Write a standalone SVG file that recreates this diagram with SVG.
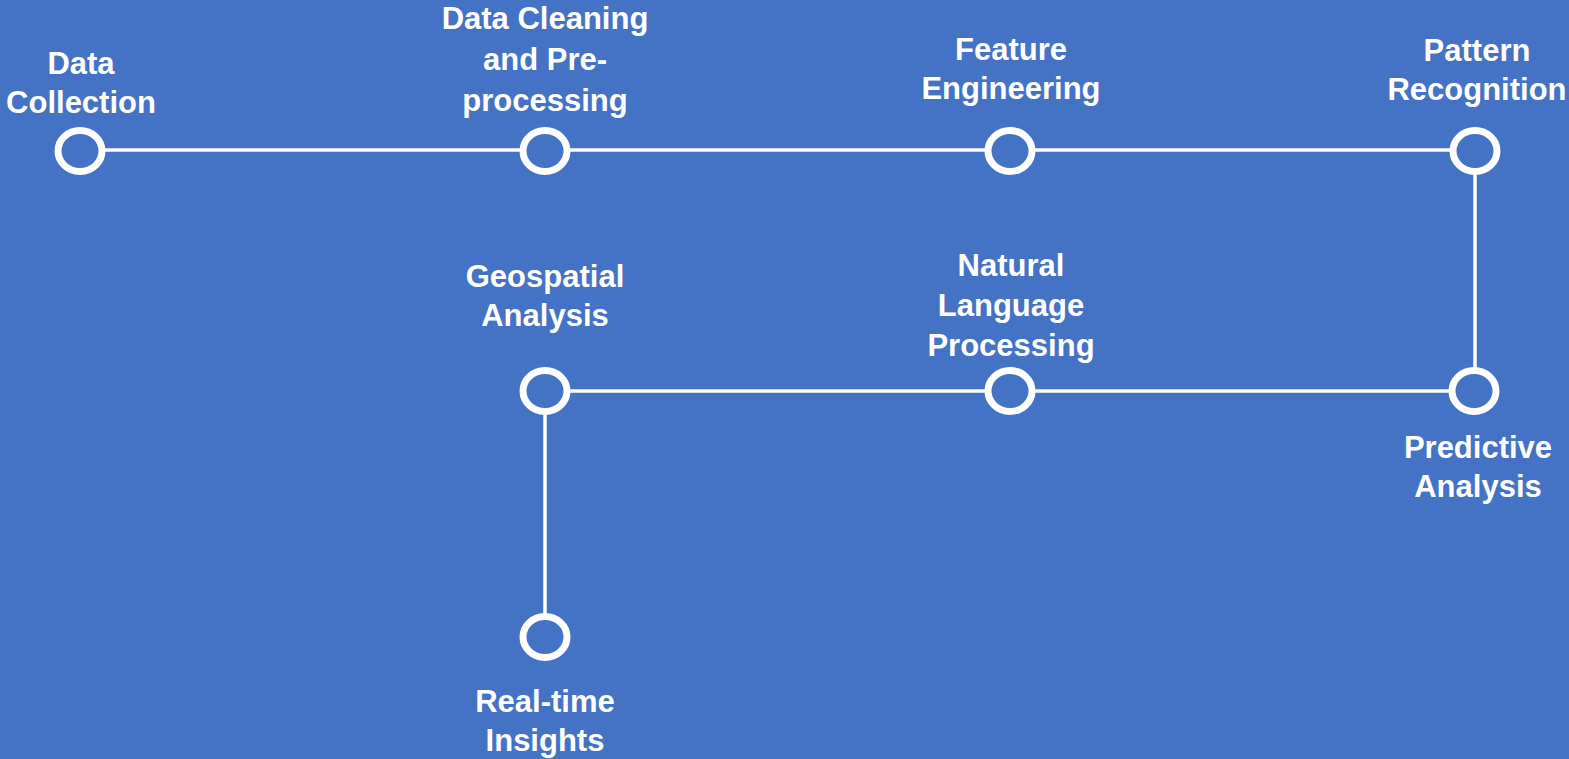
<svg xmlns="http://www.w3.org/2000/svg" width="1569" height="759" viewBox="0 0 1569 759">
  <style>
    .bg { fill: #4472C4; }
    .link { stroke: #FFFFFF; stroke-width: 3.5; fill: none; }
    .ring { fill: #4472C4; stroke: #FFFFFF; stroke-width: 7; }
    .label { fill: #FFFFFF; font-family: "Liberation Sans", Arial, sans-serif; font-weight: bold; font-size: 31px; text-anchor: middle; }
  </style>
  <rect class="bg" x="0" y="0" width="1569" height="759"/>

  <!-- connectors -->
  <g id="connectors">
    <line class="link" x1="80" y1="150" x2="1475" y2="150"/>
    <line class="link" x1="1475" y1="150" x2="1475" y2="391"/>
    <line class="link" x1="1475" y1="391" x2="545" y2="391"/>
    <line class="link" x1="545" y1="391" x2="545" y2="637"/>
  </g>

  <!-- nodes -->
  <g id="data-collection">
    <ellipse class="ring" cx="80" cy="151" rx="22" ry="20.5"/>
    <text class="label" x="81" y="74">Data</text>
    <text class="label" x="81" y="113">Collection</text>
  </g>
  <g id="data-cleaning">
    <ellipse class="ring" cx="545" cy="151" rx="22" ry="20.5"/>
    <text class="label" x="545" y="29">Data Cleaning</text>
    <text class="label" x="545" y="70">and Pre-</text>
    <text class="label" x="545" y="111">processing</text>
  </g>
  <g id="feature-engineering">
    <ellipse class="ring" cx="1010" cy="151" rx="22" ry="20.5"/>
    <text class="label" x="1011" y="60">Feature</text>
    <text class="label" x="1011" y="99">Engineering</text>
  </g>
  <g id="pattern-recognition">
    <ellipse class="ring" cx="1475" cy="151" rx="22" ry="20.5"/>
    <text class="label" x="1477" y="61">Pattern</text>
    <text class="label" x="1477" y="100">Recognition</text>
  </g>
  <g id="predictive-analysis">
    <ellipse class="ring" cx="1474" cy="391" rx="22" ry="20.5"/>
    <text class="label" x="1478" y="458">Predictive</text>
    <text class="label" x="1478" y="497">Analysis</text>
  </g>
  <g id="natural-language-processing">
    <ellipse class="ring" cx="1010" cy="391" rx="22" ry="20.5"/>
    <text class="label" x="1011" y="276">Natural</text>
    <text class="label" x="1011" y="316">Language</text>
    <text class="label" x="1011" y="356">Processing</text>
  </g>
  <g id="geospatial-analysis">
    <ellipse class="ring" cx="545" cy="391" rx="22" ry="20.5"/>
    <text class="label" x="545" y="287">Geospatial</text>
    <text class="label" x="545" y="326">Analysis</text>
  </g>
  <g id="real-time-insights">
    <ellipse class="ring" cx="545" cy="637" rx="22" ry="20.5"/>
    <text class="label" x="545" y="712">Real-time</text>
    <text class="label" x="545" y="751">Insights</text>
  </g>
</svg>
